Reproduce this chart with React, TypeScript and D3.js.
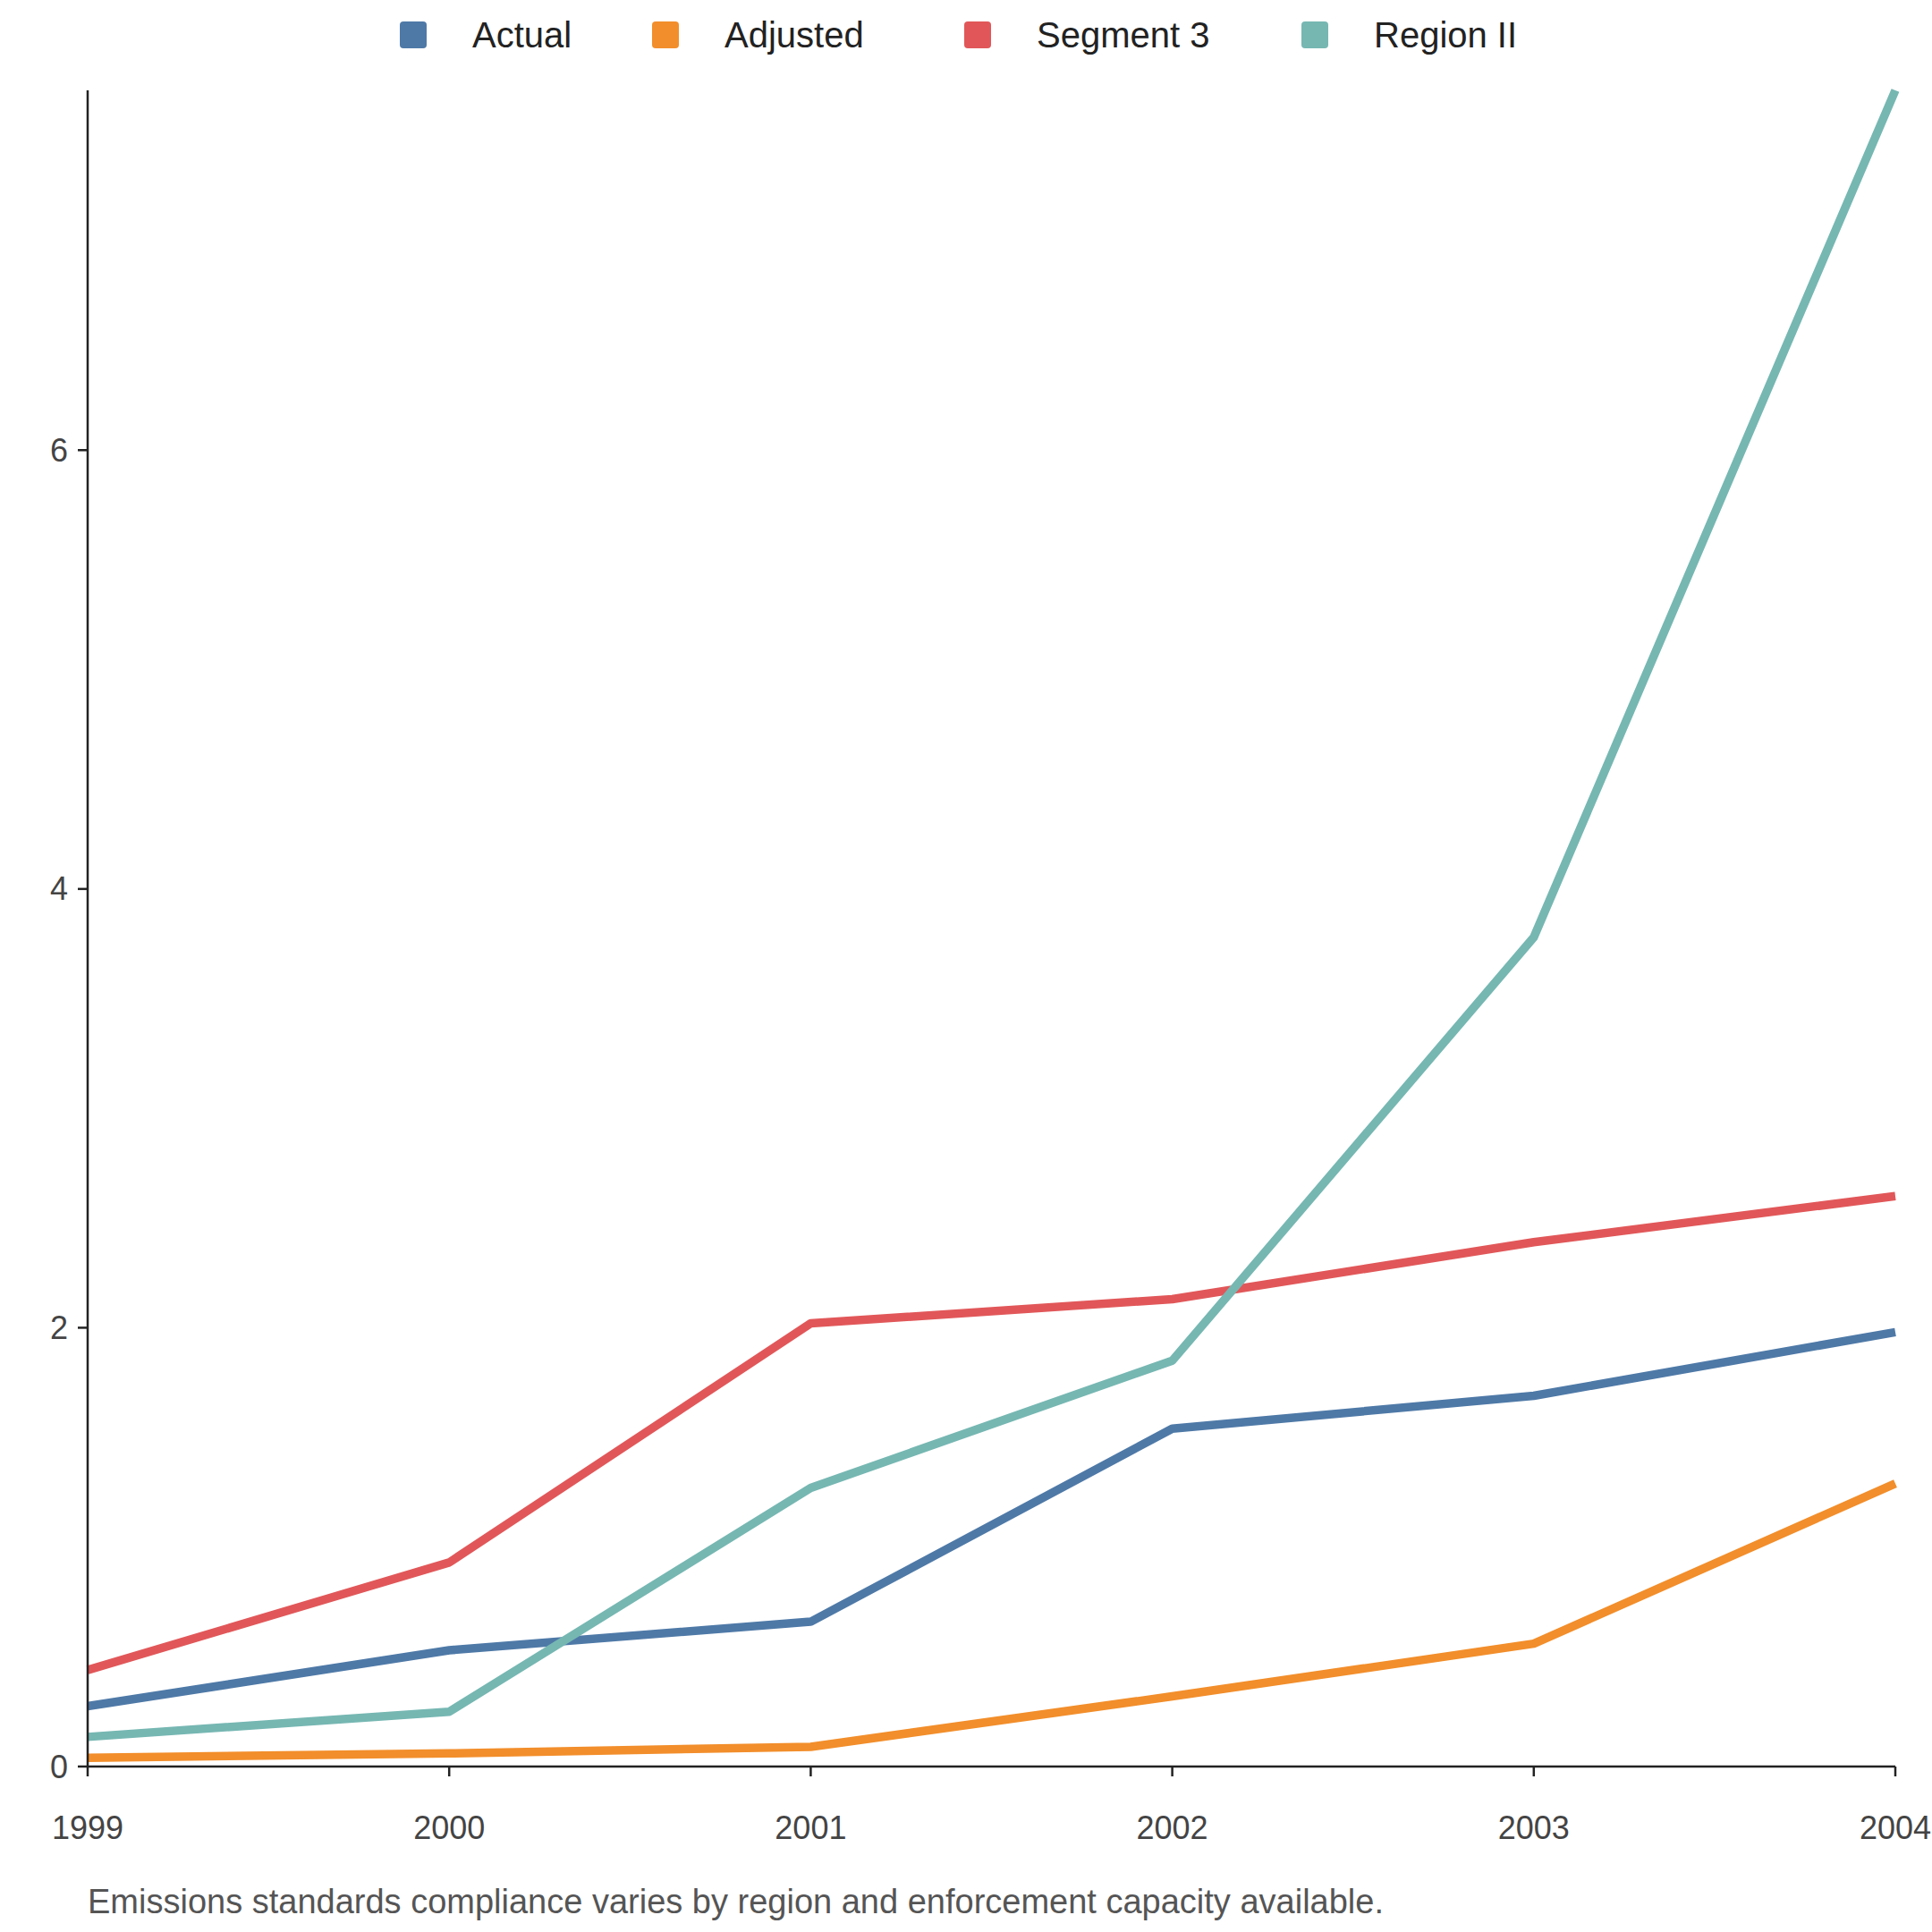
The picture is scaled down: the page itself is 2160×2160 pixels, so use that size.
import React from "react";
import * as d3 from "d3";

const years = [1999, 2000, 2001, 2002, 2003, 2004];
const actual = [0.275, 0.53, 0.66, 1.54, 1.69, 1.98];
const adjusted = [0.04, 0.06, 0.09, 0.32, 0.56, 1.29];
const segment3 = [0.44, 0.93, 2.02, 2.13, 2.39, 2.6];
const region2 = [0.135, 0.25, 1.27, 1.85, 3.78, 7.64];
const seriesNames = ["Actual", "Adjusted", "Segment 3", "Region II"];
const colors = ["#4e79a7", "#f28e2b", "#e15759", "#76b7b2"];
const yTicks = [0, 2, 4, 6];
const caption = "Emissions standards compliance varies by region and enforcement capacity available.";

export default function App() {
  const W = 2160, H = 2160;
  const m = { l: 98, r: 41, t: 101, b: 185 };
  const x = d3.scaleLinear().domain([1999, 2004]).range([m.l, W - m.r]);
  const y = d3.scaleLinear().domain([0, 7.64]).range([H - m.b, m.t]);
  const all = [actual, adjusted, segment3, region2];
  const line = d3.line<number>().x((_, i) => x(years[i])).y((d) => y(d));
  const legendX = [462, 744, 1093, 1470];
  const font = "Liberation Sans, Arial, sans-serif";
  return (
    <svg width={W} height={H} style={{ position: "absolute", left: 0, top: 0, background: "#fff" }} fontFamily={font}>
      {all.map((s, i) => (
        <path key={i} d={line(s)!} fill="none" stroke={colors[i]} strokeWidth={9.5} strokeLinejoin="round" />
      ))}
      <line x1={m.l} x2={m.l} y1={m.t} y2={H - m.b} stroke="#222" strokeWidth={2.5} />
      <line x1={m.l} x2={W - m.r} y1={H - m.b} y2={H - m.b} stroke="#222" strokeWidth={2.5} />
      {yTicks.map((t) => (
        <g key={t}>
          <line x1={m.l - 11} x2={m.l} y1={y(t)} y2={y(t)} stroke="#222" strokeWidth={2.5} />
          <text x={m.l - 22} y={y(t)} textAnchor="end" dominantBaseline="central" fontSize={36} fill="#444">{t}</text>
        </g>
      ))}
      {years.map((t) => (
        <g key={t}>
          <line x1={x(t)} x2={x(t)} y1={H - m.b} y2={H - m.b + 11} stroke="#222" strokeWidth={2.5} />
          <text x={x(t)} y={2043} textAnchor="middle" dominantBaseline="central" fontSize={36} fill="#444">{t}</text>
        </g>
      ))}
      {seriesNames.map((n, i) => (
        <g key={n}>
          <rect x={legendX[i] - 15} y={24} width={30} height={30} rx={4} fill={colors[i]} />
          <text x={legendX[i] + 66} y={39} dominantBaseline="central" fontSize={40} fill="#222">{n}</text>
        </g>
      ))}
      <text x={98} y={2126} dominantBaseline="central" fontSize={38} fill="#555">{caption}</text>
    </svg>
  );
}
